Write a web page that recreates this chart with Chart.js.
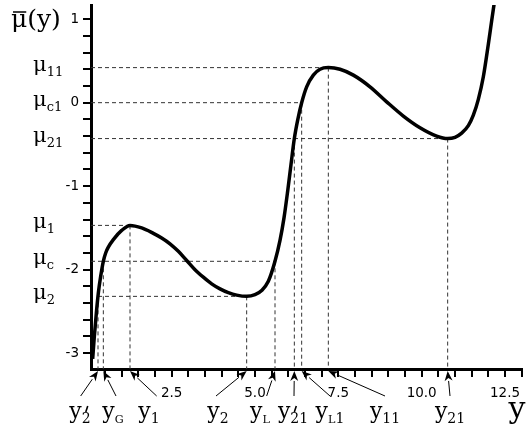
<!DOCTYPE html>
<html>
<head>
<meta charset="utf-8">
<script src="https://cdn.jsdelivr.net/npm/chart.js@4.4.1/dist/chart.umd.min.js"></script>
<style>
  html, body { margin: 0; padding: 0; background: #fff; }
  #wrap { width: 527px; height: 430px; }
</style>
</head>
<body>
<div id="wrap"><canvas id="chart"></canvas></div>
<script>
// the curve mu-bar(y)
const curveX = [0.13, 0.18, 0.24, 0.30, 0.37, 0.45, 0.52, 0.60, 0.75, 1.00, 1.25, 1.60, 1.95, 2.20,
  2.45, 2.70, 2.95, 3.20, 3.45, 3.70, 3.95, 4.20, 4.45, 4.75, 5.00, 5.20, 5.40, 5.60, 5.75, 5.87,
  5.98, 6.08, 6.18, 6.29, 6.40, 6.55, 6.75, 6.95, 7.20, 7.55, 7.95, 8.45, 8.95, 9.45, 9.95, 10.45,
  10.78, 11.00, 11.20, 11.40, 11.55, 11.70, 11.85, 12.00, 12.10, 12.18];
const curveY = [-3.07, -2.80, -2.52, -2.28, -2.08, -1.90, -1.80, -1.73, -1.64, -1.53, -1.47, -1.50, -1.565, -1.62,
  -1.69, -1.78, -1.89, -2.00, -2.09, -2.17, -2.23, -2.275, -2.305, -2.32, -2.30, -2.25, -2.14, -1.90, -1.65, -1.38,
  -1.06, -0.74, -0.43, -0.19, 0.00, 0.19, 0.33, 0.40, 0.42, 0.40, 0.33, 0.19, 0.01, -0.16, -0.30, -0.40,
  -0.43, -0.415, -0.365, -0.275, -0.15, 0.04, 0.31, 0.70, 0.98, 1.20];

// horizontal levels (left labels)
const levelSubs = ['11', 'c1', '21', '1', 'c', '2'];
const levelValues = [0.42, 0, -0.43, -1.47, -1.90, -2.32];
const levelFrom = [null, null, null, null, null, 0.29]; // null: starts at the axis
const levelTo = [7.20, 6.40, 10.78, 1.25, 5.60, 4.75];

// points on the y axis (bottom labels)
const rootSubs = ['2', 'G', '1', '2', 'L', '21', 'L1', '11', '21'];
const rootPrime = [true, false, false, false, false, true, false, false, false];
const rootX = [0.29, 0.45, 1.25, 4.75, 5.60, 6.18, 6.40, 7.20, 10.78];
const rootLevel = [-2.32, -1.90, -1.47, -2.32, -1.90, -0.43, 0, 0.42, -0.43];
const rootLabelX = [-0.25, 0.74, 1.82, 3.89, 5.15, 6.14, 7.25, 8.90, 10.85];
const rootTailX = [-0.23, 0.83, 2.05, 3.83, 5.35, 6.17, 7.25, 8.90, 10.85];

const xMin = 0.08, xMax = 13.01, yMin = -3.19, yMax = 1.17;

const guideStyle = {
  borderColor: '#333', borderWidth: 1, borderDash: [4, 3],
  pointRadius: 0, tension: 0, fill: false
};

const datasets = [{
  data: curveX.map((x, i) => ({ x, y: curveY[i] })),
  borderColor: '#000',
  borderWidth: 3.5,
  pointRadius: 0,
  cubicInterpolationMode: 'monotone',
  fill: false
}];
levelValues.forEach((v, i) => {
  datasets.push({ ...guideStyle, data: [{ x: levelFrom[i] ?? xMin, y: v }, { x: levelTo[i], y: v }] });
});
rootX.forEach((x, i) => {
  datasets.push({ ...guideStyle, data: [{ x, y: rootLevel[i] }, { x, y: yMin }] });
});

function drawArrow(ctx, x0, y0, x1, y1) {
  const a = Math.atan2(y1 - y0, x1 - x0);
  const len = 10, half = 4;
  const bx = x1 - len * Math.cos(a), by = y1 - len * Math.sin(a);
  ctx.lineWidth = 1;
  ctx.beginPath();
  ctx.moveTo(x0, y0);
  ctx.lineTo(bx, by);
  ctx.stroke();
  ctx.beginPath();
  ctx.moveTo(x1, y1);
  ctx.lineTo(bx + half * Math.sin(a), by - half * Math.cos(a));
  ctx.lineTo(x1 - 0.7 * len * Math.cos(a), y1 - 0.7 * len * Math.sin(a));
  ctx.lineTo(bx - half * Math.sin(a), by + half * Math.cos(a));
  ctx.closePath();
  ctx.fill();
}

// subscript text, capitals a bit smaller
function subSize(ch, size) {
  return /[A-Z]/.test(ch) ? size * 0.8 : size;
}
function drawSub(ctx, text, x, y, size) {
  for (const ch of text) {
    ctx.font = subSize(ch, size) + 'px "DejaVu Serif"';
    ctx.fillText(ch, x, y);
    x += ctx.measureText(ch).width;
  }
  return x;
}
function subWidth(ctx, text, size) {
  let w = 0;
  for (const ch of text) {
    ctx.font = subSize(ch, size) + 'px "DejaVu Serif"';
    w += ctx.measureText(ch).width;
  }
  return w;
}

const labelPlugin = {
  id: 'labels',
  afterDraw(chart) {
    const { ctx, chartArea } = chart;
    const xs = chart.scales.x, ys = chart.scales.y;
    ctx.save();
    ctx.fillStyle = '#000';
    ctx.strokeStyle = '#000';
    ctx.textAlign = 'left';
    ctx.textBaseline = 'alphabetic';

    // axis title mu-bar(y)
    ctx.font = '25px "DejaVu Serif"';
    ctx.fillText('μ', 11, 27);
    const mw = ctx.measureText('μ').width;
    ctx.fillText('(y)', 11 + mw, 27);
    ctx.lineWidth = 1.5;
    ctx.beginPath();
    ctx.moveTo(13, 12);
    ctx.lineTo(11 + mw - 1, 12);
    ctx.stroke();

    // level labels
    levelValues.forEach((v, i) => {
      const py = ys.getPixelForValue(v);
      ctx.font = '21px "DejaVu Serif"';
      ctx.fillText('μ', 33, py + 3);
      const w = ctx.measureText('μ').width;
      drawSub(ctx, levelSubs[i], 33 + w, py + 8, 13);
    });

    // labels under the axis, with arrows
    const base = chartArea.bottom + 49;
    rootSubs.forEach((s, i) => {
      const cx = xs.getPixelForValue(rootLabelX[i]);
      ctx.font = '22px "DejaVu Serif"';
      const w1 = ctx.measureText('y').width;
      const w2 = subWidth(ctx, s, 14);
      const left = cx - (w1 + w2) / 2;
      ctx.font = '22px "DejaVu Serif"';
      ctx.fillText('y', left, base);
      drawSub(ctx, s, left + w1, base + 5, 14);
      if (rootPrime[i]) {
        const sx = left + w1;
        ctx.lineWidth = 1.6;
        ctx.beginPath();
        ctx.moveTo(sx + 6, base - 12);
        ctx.lineTo(sx + 4, base - 6);
        ctx.stroke();
      }
      drawArrow(ctx, xs.getPixelForValue(rootTailX[i]), chartArea.bottom + 27,
        xs.getPixelForValue(rootX[i]), chartArea.bottom + 2);
    });

    // axis name y
    ctx.font = '30px "DejaVu Serif"';
    ctx.textAlign = 'center';
    ctx.fillText('y', xs.getPixelForValue(12.86), base);
    ctx.restore();
  }
};

new Chart(document.getElementById('chart'), {
  type: 'line',
  data: { datasets },
  plugins: [labelPlugin],
  options: {
    responsive: true,
    maintainAspectRatio: false,
    devicePixelRatio: 1,
    animation: false,
    layout: { padding: { left: 0, top: 5, right: 5, bottom: 0 } },
    plugins: {
      legend: { display: false },
      tooltip: { enabled: false }
    },
    scales: {
      x: {
        type: 'linear',
        min: xMin,
        max: xMax,
        border: { display: true, color: '#000', width: 3 },
        grid: { drawOnChartArea: false, drawTicks: true, tickLength: 8, color: '#000', lineWidth: 2 },
        ticks: {
          stepSize: 0.5,
          includeBounds: false,
          autoSkip: false,
          maxRotation: 0,
          padding: 8,
          color: '#000',
          font: { family: 'DejaVu Sans', size: 13.5 },
          callback: v => Math.abs(v / 2.5 - Math.round(v / 2.5)) < 1e-6 ? v.toFixed(1) : ''
        },
        afterFit: s => { s.height = 61; s.paddingLeft = 0; s.paddingRight = 0; }
      },
      y: {
        type: 'linear',
        min: yMin,
        max: yMax,
        border: { display: true, color: '#000', width: 3 },
        grid: { drawOnChartArea: false, drawTicks: true, tickLength: 8, color: '#000', lineWidth: 2 },
        ticks: {
          stepSize: 0.2,
          includeBounds: false,
          autoSkip: false,
          padding: 4,
          color: '#000',
          font: { family: 'DejaVu Sans', size: 13.5 },
          callback: v => Math.abs(v - Math.round(v)) < 1e-6 ? String(Math.round(v)) : ''
        },
        afterFit: s => { s.width = 91; s.paddingTop = 0; s.paddingBottom = 0; }
      }
    }
  }
});
</script>
</body>
</html>
